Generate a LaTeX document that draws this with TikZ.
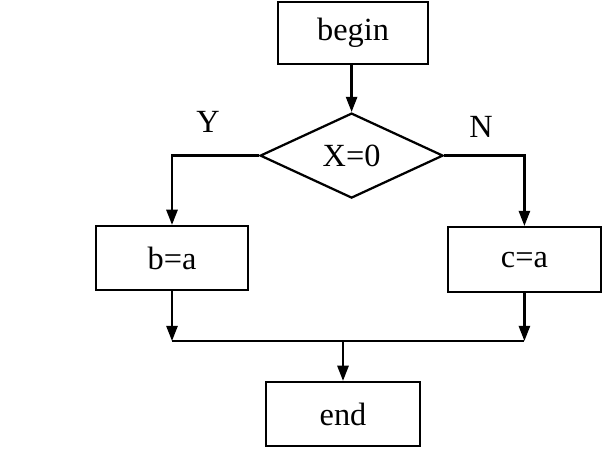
\documentclass[tikz,border=0pt]{standalone}
\usepackage{fontspec}
\setmainfont{Liberation Serif}
\usetikzlibrary{shapes.geometric,arrows.meta}

\begin{document}
\begin{tikzpicture}[
	line width=1.6pt,
	every node/.style={font=\fontsize{23}{27}\selectfont},
	stepbox/.style={draw, rectangle, inner sep=0pt},
	testbox/.style={draw, diamond, inner sep=0pt, aspect=2.15,
		minimum width=4.575cm, minimum height=2.125cm},
	flow/.style={-{Triangle[length=0.38cm, width=0.28cm]}}
	]

	\useasboundingbox (0,0) rectangle (15.05,-11.3);

	% Begin and test
	\node[stepbox, minimum width=3.75cm, minimum height=1.55cm] (begin) at (8.825,-0.825) {begin};
	\node[testbox] (test) at (8.79,-3.89) {X=0};
	\draw[flow] (begin.south -| test.north) -- (test.north);
	\node at (5.2,-3.05) {Y};
	\node at (12.025,-3.175) {N};

	% Branches
	\node[stepbox, minimum width=3.8cm, minimum height=1.6cm] (yes) at (4.3,-6.45) {b=a};
	\node[stepbox, minimum width=3.825cm, minimum height=1.625cm] (no) at (13.11,-6.49) {c=a};
	\draw[flow] (test.west) -| (yes.north);
	\draw[flow] (test.east) -| (no.north);

	% End
	\node[stepbox, minimum width=3.85cm, minimum height=1.6cm] (end) at (8.575,-10.35) {end};
	\coordinate (join) at (8.575,-8.525);
	\draw[flow] (yes.south) -- (yes.south |- join);
	\draw[flow] (no.south) -- (no.south |- join);
	\draw (yes.south |- join) -- (no.south |- join);
	\draw[flow] (join) -- (end.north);

\end{tikzpicture}
\end{document}
